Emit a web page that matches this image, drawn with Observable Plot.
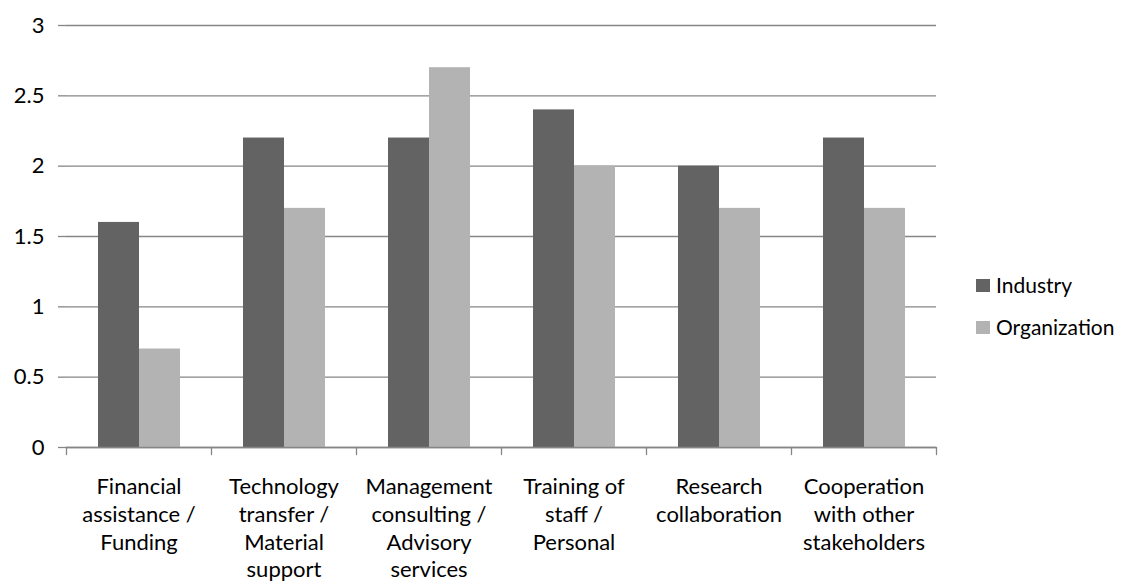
<!DOCTYPE html>
<html><head><meta charset="utf-8">
<script src="https://cdn.jsdelivr.net/npm/d3@7"></script>
<script src="https://cdn.jsdelivr.net/npm/@observablehq/plot@0.6"></script>
<style>
body{margin:0;background:#fff;font-family:Lato,sans-serif}
#wrap{position:relative;width:1123px;height:585px}
#legend{position:absolute;left:976px;top:271px;font-size:21px;color:#000;line-height:28px}
.item{display:flex;align-items:center;height:28px;margin-bottom:14px;white-space:nowrap}
.sw{width:14px;height:13px;margin-right:6px;flex:none}
</style></head>
<body><div id="wrap"><div id="chart"></div><div id="legend"></div></div>
<script>
const categories = ["Financial assistance / Funding","Technology transfer / Material support","Management consulting / Advisory services","Training of staff / Personal","Research collaboration","Cooperation with other stakeholders"];
const categoryLabels = ["Financial\nassistance /\nFunding","Technology\ntransfer /\nMaterial\nsupport","Management\nconsulting /\nAdvisory\nservices","Training of\nstaff /\nPersonal","Research\ncollaboration","Cooperation\nwith other\nstakeholders"];
const series = ["Industry","Organization"];
const industry = [1.6,2.2,2.2,2.4,2.0,2.2];
const organization = [0.7,1.7,2.7,2.0,1.7,1.7];
const yTicks = [0,0.5,1,1.5,2,2.5,3];
const colors = ["#636363","#b3b3b3"];

const data = categories.flatMap((c,i)=>[
  {category:c, series:series[0], value:industry[i]},
  {category:c, series:series[1], value:organization[i]}
]);
const labelOf = new Map(categories.map((c,i)=>[c,categoryLabels[i]]));
const gray = "#868686";
const lineShape = {draw(ctx,l){ctx.moveTo(0,0);ctx.lineTo(0,-l);}};

const chart = Plot.plot({
  width:1123, height:585,
  marginLeft:65, marginRight:186, marginTop:25, marginBottom:138,
  style:{fontFamily:"Lato, sans-serif", fontSize:"22px", color:"#000", background:"#fff"},
  fx:{domain:categories, padding:0, label:null},
  x:{domain:series, paddingInner:0, paddingOuter:0.75, axis:null},
  y:{domain:[0,3], label:null},
  color:{domain:series, range:colors},
  marks:[
    Plot.gridY(yTicks,{stroke:gray, strokeOpacity:1, strokeWidth:1.3}),
    Plot.barY(data,{fx:"category", x:"series", y:"value", fill:"series"}),
    Plot.ruleY([0],{stroke:gray, strokeWidth:1.3}),
    Plot.axisY(yTicks,{tickSize:8, tickPadding:14, stroke:gray, strokeWidth:1.3, fill:"#000", line:true, label:null, tickFormat:d=>String(d)}),
    Plot.axisFx({anchor:"bottom", tickSize:0, tickPadding:27, label:null, fill:"#000", lineHeight:1.26, tickFormat:d=>labelOf.get(d)}),
    Plot.vector(categories,{fx:d=>d, frameAnchor:"bottom-left", length:7, rotate:180, anchor:"start", stroke:gray, strokeWidth:1.3, shape:lineShape}),
    Plot.vector([categories[categories.length-1]],{fx:d=>d, frameAnchor:"bottom-right", length:7, rotate:180, anchor:"start", stroke:gray, strokeWidth:1.3, shape:lineShape})
  ]
});
document.getElementById("chart").append(chart);

const legend = document.getElementById("legend");
series.forEach((s,i)=>{
  const it = document.createElement("div"); it.className="item";
  const sw = document.createElement("span"); sw.className="sw"; sw.style.background=colors[i];
  const t = document.createElement("span"); t.textContent=s;
  it.append(sw,t); legend.append(it);
});
</script>
</body></html>
